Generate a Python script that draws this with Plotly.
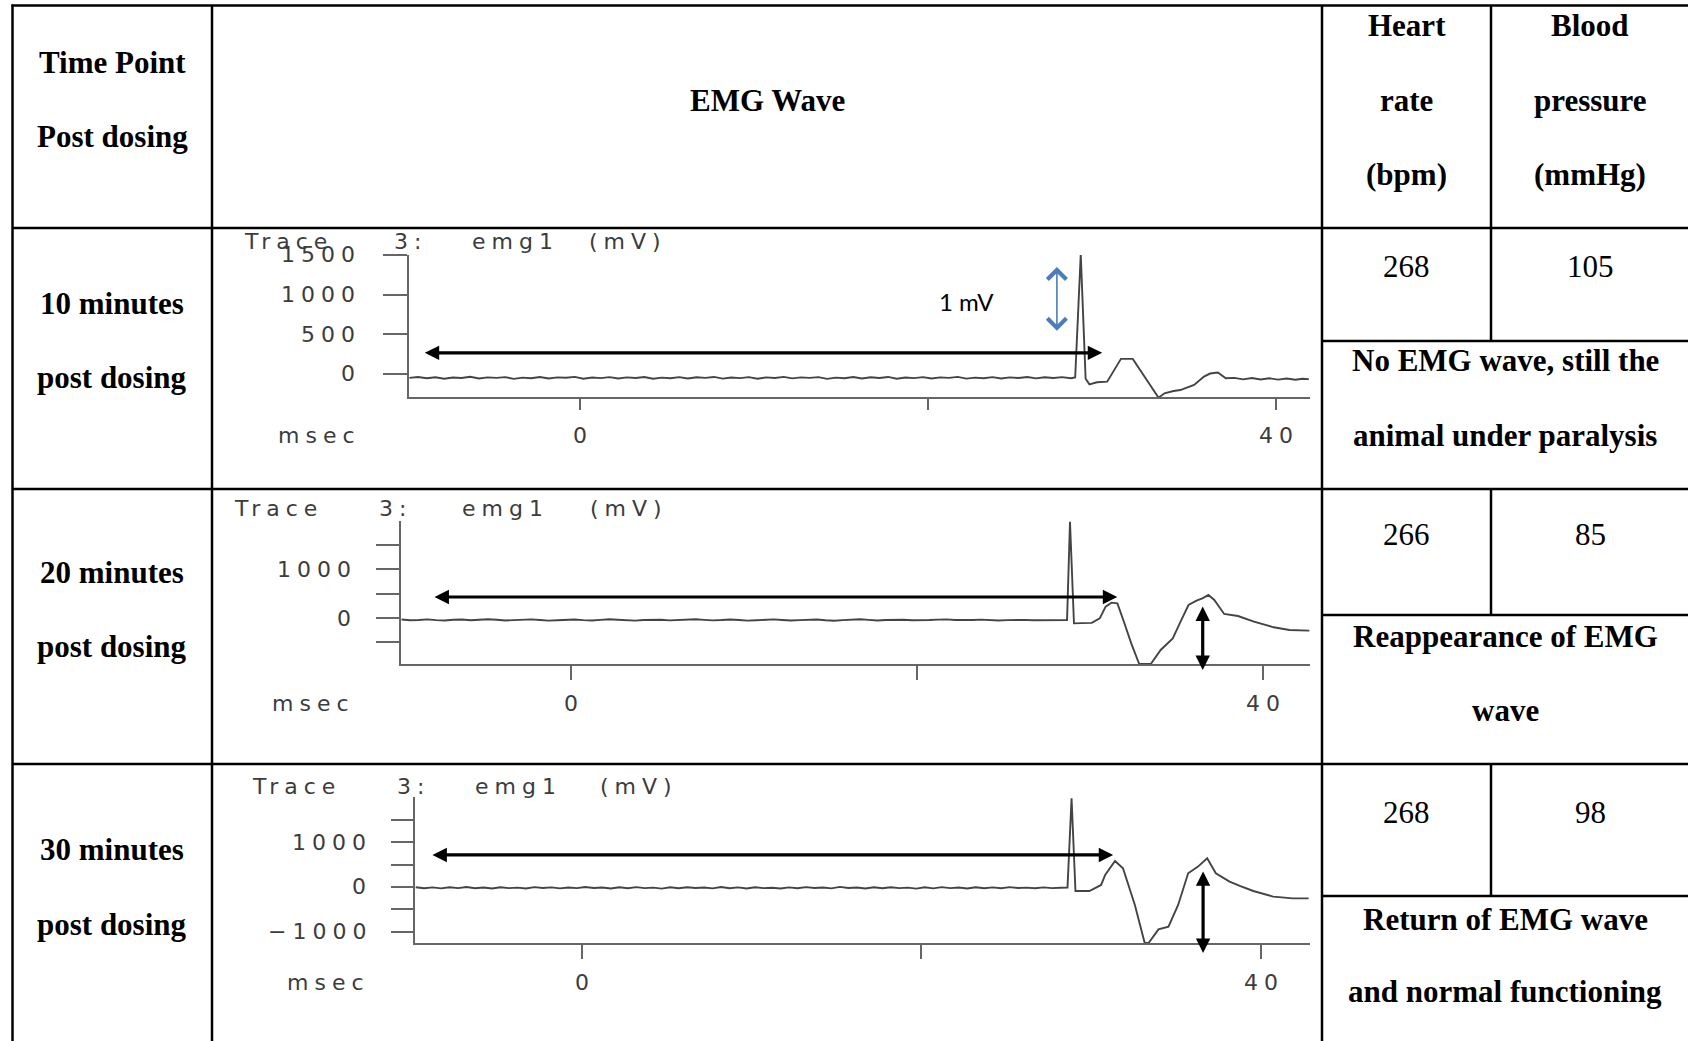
import plotly.graph_objects as go
import numpy as np

W, H = 1688, 1041

# ---------------- data ----------------
header_time = ["Time Point", "Post dosing"]
header_wave = "EMG Wave"
header_hr = ["Heart", "rate", "(bpm)"]
header_bp = ["Blood", "pressure", "(mmHg)"]
time_points = [["10 minutes", "post dosing"],
               ["20 minutes", "post dosing"],
               ["30 minutes", "post dosing"]]
heart_rate = [268, 266, 268]
blood_pressure = [105, 85, 98]
remarks = [["No EMG wave, still the", "animal under paralysis"],
           ["Reappearance of EMG", "wave"],
           ["Return of EMG wave", "and normal functioning"]]

trace_title = ["Trace", "3:", "emg1", "(mV)"]
x_unit = "msec"
x_ticks = [0, 20, 40]
x_tick_text = ["0", "", "40"]
y_ticks_10 = [0, 500, 1000, 1500]
y_tick_text_10 = ["0", "500", "1000", "1500"]
y_ticks_20 = [-500, 0, 500, 1000, 1500]
y_tick_text_20 = ["", "0", "", "1000", ""]
y_ticks_30 = [-1000, -500, 0, 500, 1000, 1500]
y_tick_text_30 = ["\u22121000", "", "0", "", "1000", ""]

baseline_start_ms = -9.8
baseline_step_ms = 0.5
baseline_10 = [-50, -38, -55, -42, -60, -45, -52, -36, -58, -44,
               -50, -40, -62, -46, -54, -38, -57, -43, -49, -37,
               -60, -45, -53, -41, -58, -44, -51, -39, -61, -47,
               -55, -40, -57, -42, -50, -38, -59, -45, -53, -41,
               -60, -44, -52, -37, -56, -43, -50, -40, -62, -46,
               -54, -39, -58, -42, -51, -38, -60, -45, -53, -40,
               -57, -43, -50, -37, -59, -46, -54, -41, -58, -44,
               -51, -39, -56, -42, -52, -40, -55]
event_10_ms = [28.45, 28.77, 29.05, 29.27, 29.7, 30.29, 31.08, 31.76, 33.24, 33.58,
               34.1, 34.49, 35.28, 35.85, 36.2, 36.65, 37.1, 37.6, 38.1, 38.6,
               39.1, 39.6, 40.1, 40.6, 41.1, 41.5, 41.87]
event_10_mv = [-45, 1510, -60, -131, -105, -97, 190, 190, -300, -245,
               -215, -203, -139, -34, 5, 17, -55, -50, -68, -52,
               -70, -55, -72, -58, -74, -60, -66]

baseline_20 = [-32, -46, -40, -28, -43, -52, -36, -30, -47, -40,
               -26, -37, -50, -44, -34, -29, -41, -53, -46, -33,
               -30, -43, -51, -39, -27, -35, -47, -54, -40, -31,
               -37, -49, -43, -33, -25, -38, -48, -41, -30, -42,
               -53, -46, -35, -28, -40, -50, -44, -37, -31, -46,
               -55, -43, -34, -27, -39, -51, -40, -32, -36, -47,
               -52, -42, -34, -29, -40, -48, -41, -33, -43, -50,
               -44, -36, -39, -47, -43, -38, -42]
event_20_ms = [28.66, 28.83, 29.06, 29.5, 30.09, 30.55, 30.89, 31.23, 31.57, 31.91,
               32.37, 32.83, 33.5, 34.07, 34.77, 35.22, 35.68, 36.14, 36.48, 36.83,
               37.17, 37.74, 38.54, 39.46, 40.6, 41.51, 42.66]
event_20_mv = [-40, 1966, -109, -105, -100, -7, 231, 313, 299, -41,
               -517, -939, -939, -653, -415, -75, 265, 354, 401, 469,
               367, 82, 41, -75, -190, -245, -258]

baseline_30 = [-5, -28, -10, -32, -8, -25, -2, -30, -12, -35,
               -6, -27, -15, -33, -4, -22, -9, -31, -13, -26,
               0, -24, -11, -34, -7, -29, -3, -25, -14, -36,
               -8, -30, -5, -23, -12, -32, -1, -27, -10, -33,
               -6, -26, -16, -35, -9, -28, -4, -24, -13, -31,
               2, -22, -11, -34, -7, -29, -5, -26, -15, -37,
               -8, -31, -3, -25, -12, -33, -6, -28, -10, -30,
               -4, -24, -14, -29, -9, -27, -18]
event_30_ms = [28.61, 28.85, 29.08, 29.9, 30.59, 30.83, 31.41, 31.88, 32.58, 33.16,
               33.39, 33.97, 34.56, 35.13, 35.72, 36.3, 36.84, 37.35, 38.16, 38.8,
               39.56, 40.73, 41.89, 42.82]
event_30_mv = [-15, 1993, -90, -90, 45, 270, 584, 420, -404, -1258,
               -1258, -951, -891, -404, 307, 457, 644, 307, 120, 20,
               -90, -217, -255, -255]

# annotation marks (data units: ms, mV)
latency_arrow_ms = [[-9.0, 30.0], [-7.98, 31.56], [-8.9, 31.3]]
latency_arrow_mv = [266, 429, 719]
amp_arrow_ms = [None, 36.5, 36.6]
amp_arrow_mv = [None, [265, -1061], [382, -1483]]
scale_arrow_ms = 27.4
scale_arrow_mv = [1367, 544]
scale_label = "1 mV"
scale_label_pos = [22.2, 911]

# ---------------- layout geometry (pixels) ----------------
def fx(x):
    return x / W


def fy(y):
    return 1 - y / H


LS = 6

panels = [
    dict(l=409, r=1310, t=255, b=397, xr=[-9.82, 41.94], yr=[-291, 1500],
         yt=y_ticks_10, ytt=y_tick_text_10, base=baseline_10, ems=event_10_ms, emv=event_10_mv,
         ylab_r=357 + LS, ylen=24, xlen=11, xlab_y=435, title_y=241,
         title_x=[242, 392, 470, 587], msec_r=357 + LS),
    dict(l=401, r=1310, t=521, b=664, xr=[-9.83, 42.7], yr=[-939, 1980],
         yt=y_ticks_20, ytt=y_tick_text_20, base=baseline_20, ems=event_20_ms, emv=event_20_mv,
         ylab_r=353 + LS, ylen=23, xlen=14, xlab_y=703, title_y=508,
         title_x=[232, 377, 460, 588], msec_r=351 + LS),
    dict(l=415, r=1310, t=797, b=943, xr=[-9.84, 42.9], yr=[-1258, 2020],
         yt=y_ticks_30, ytt=y_tick_text_30, base=baseline_30, ems=event_30_ms, emv=event_30_mv,
         ylab_r=368 + LS, ylen=22, xlen=14, xlab_y=982, title_y=786,
         title_x=[250, 395, 473, 598], msec_r=366 + LS),
]

fig = go.Figure()
annotations = []
shapes = []

EMG_FONT = dict(family="DejaVu Sans", size=22, color="#3c3c3c")
TRACE_COL = "#444444"
AXIS_COL = "#666666"


def spaced(s):
    return f'<span style="letter-spacing:{LS}px">{s}</span>'


for i, p in enumerate(panels):
    k = "" if i == 0 else str(i + 1)
    xa, ya = "x" + k, "y" + k
    t_base = baseline_start_ms + baseline_step_ms * np.arange(len(p["base"]))
    t_all = list(t_base) + p["ems"]
    v_all = list(p["base"]) + p["emv"]
    fig.add_trace(go.Scatter(x=t_all, y=v_all, mode="lines",
                             line=dict(color=TRACE_COL, width=1.9),
                             xaxis=xa, yaxis=ya, showlegend=False, hoverinfo="skip"))
    fig.layout["xaxis" + k] = dict(
        domain=[fx(p["l"]), fx(p["r"])], range=p["xr"], anchor=ya,
        showline=True, linecolor=AXIS_COL, linewidth=1.7, showgrid=False, zeroline=False,
        ticks="outside", tickvals=x_ticks, ticklen=p["xlen"], tickwidth=1.7,
        tickcolor=AXIS_COL, showticklabels=False, fixedrange=True)
    fig.layout["yaxis" + k] = dict(
        domain=[fy(p["b"]), fy(p["t"])], range=p["yr"], anchor=xa,
        showline=True, linecolor=AXIS_COL, linewidth=1.7, showgrid=False, zeroline=False,
        ticks="outside", tickvals=p["yt"], ticklen=p["ylen"], tickwidth=1.7,
        tickcolor=AXIS_COL, showticklabels=False, fixedrange=True)
    # y tick labels
    for v, txt in zip(p["yt"], p["ytt"]):
        if txt:
            annotations.append(dict(text=spaced(txt), x=fx(p["ylab_r"]), xref="paper",
                                    y=v, yref=ya, xanchor="right", yanchor="middle",
                                    showarrow=False, font=EMG_FONT))
    # x tick labels
    for v, txt in zip(x_ticks, x_tick_text):
        if txt:
            annotations.append(dict(text=spaced(txt), x=v, xref=xa, xshift=LS / 2,
                                    y=fy(p["xlab_y"]), yref="paper",
                                    xanchor="center", yanchor="middle",
                                    showarrow=False, font=EMG_FONT))
    annotations.append(dict(text=spaced(x_unit), x=fx(p["msec_r"]), xref="paper",
                            y=fy(p["xlab_y"]), yref="paper", xanchor="right",
                            yanchor="middle", showarrow=False, font=EMG_FONT))
    for word, wx in zip(trace_title, p["title_x"]):
        annotations.append(dict(text=spaced(word), x=fx(wx), xref="paper",
                                y=fy(p["title_y"]), yref="paper", xanchor="left",
                                yanchor="middle", showarrow=False, font=EMG_FONT))
    # latency arrow (double headed, black)
    annotations.append(dict(text="", x=latency_arrow_ms[i][1], y=latency_arrow_mv[i],
                            xref=xa, yref=ya, ax=latency_arrow_ms[i][0], ay=latency_arrow_mv[i],
                            axref=xa, ayref=ya, showarrow=True, arrowside="end+start",
                            arrowhead=2, startarrowhead=2, arrowsize=0.9, startarrowsize=0.9,
                            arrowwidth=3.2, arrowcolor="black", standoff=0, startstandoff=0))
    if amp_arrow_ms[i] is not None:
        annotations.append(dict(text="", x=amp_arrow_ms[i], y=amp_arrow_mv[i][1],
                                xref=xa, yref=ya, ax=amp_arrow_ms[i], ay=amp_arrow_mv[i][0],
                                axref=xa, ayref=ya, showarrow=True, arrowside="end+start",
                                arrowhead=2, startarrowhead=2, arrowsize=0.9, startarrowsize=0.9,
                                arrowwidth=3.2, arrowcolor="black", standoff=0, startstandoff=0))

# 1 mV scale arrow (panel 1)
annotations.append(dict(text="", x=scale_arrow_ms, y=scale_arrow_mv[1], xref="x", yref="y",
                        ax=scale_arrow_ms, ay=scale_arrow_mv[0], axref="x", ayref="y",
                        showarrow=True, arrowside="end+start", arrowhead=4, startarrowhead=4,
                        arrowsize=2.3, startarrowsize=2.3, arrowwidth=1.6,
                        arrowcolor="#4a7ebb", standoff=0, startstandoff=0))
annotations.append(dict(text=scale_label, x=scale_label_pos[0], y=scale_label_pos[1],
                        xref="x", yref="y", showarrow=False, xanchor="center", yanchor="middle",
                        font=dict(family="Lato", size=24, color="black")))

# ---------------- table ----------------
LW = 2.5
LEFT, TOP, RIGHT, BOTTOM = 12.5, 5.5, 1690, 1045
C1, C2, C3 = 212, 1322, 1491
ROWS = [228, 489, 764]
SUB = [341, 615, 896]


def hline(y, x0, x1):
    shapes.append(dict(type="line", xref="paper", yref="paper", x0=fx(x0), x1=fx(x1),
                       y0=fy(y), y1=fy(y), line=dict(color="black", width=LW)))


def vline(x, y0, y1):
    shapes.append(dict(type="line", xref="paper", yref="paper", x0=fx(x), x1=fx(x),
                       y0=fy(y0), y1=fy(y1), line=dict(color="black", width=LW)))


hline(TOP, LEFT - 1, RIGHT)
vline(LEFT, TOP - 1, BOTTOM)
vline(C1, TOP, BOTTOM)
vline(C2, TOP, BOTTOM)
for r in ROWS:
    hline(r, LEFT, RIGHT)
for s in SUB:
    hline(s, C2, RIGHT)
vline(C3, TOP, ROWS[0])
for r, s in zip(ROWS, SUB):
    vline(C3, r, s)

SERIF = dict(family="Liberation Serif", size=31, color="black")


def cell(text, x, y, bold=True):
    t = f"<b>{text}</b>" if bold else text
    annotations.append(dict(text=t, x=fx(x), y=fy(y), xref="paper", yref="paper",
                            xanchor="center", yanchor="middle", showarrow=False, font=SERIF))


col1_x = (LEFT + C1) / 2
col2_x = (C1 + C2) / 2
col3_x = (C2 + C3) / 2
col4_x = 1590
col34_x = 1505

cell(header_time[0], col1_x, 62)
cell(header_time[1], col1_x, 137)
cell(header_wave, col2_x, 100)
for txt, yy in zip(header_hr, [26, 100, 174]):
    cell(txt, col3_x, yy)
for txt, yy in zip(header_bp, [26, 100, 174]):
    cell(txt, col4_x, yy)

tp_y = [[304, 378], [572, 646], [849, 924]]
num_y = [266, 534, 812]
rem_y = [[360, 435], [636, 710], [919, 991]]
for i in range(3):
    cell(time_points[i][0], col1_x, tp_y[i][0])
    cell(time_points[i][1], col1_x, tp_y[i][1])
    cell(str(heart_rate[i]), col3_x, num_y[i], bold=False)
    cell(str(blood_pressure[i]), col4_x, num_y[i], bold=False)
    cell(remarks[i][0], col34_x, rem_y[i][0])
    cell(remarks[i][1], col34_x, rem_y[i][1])

fig.update_layout(width=W, height=H, autosize=False,
                  margin=dict(l=0, r=0, t=0, b=0, pad=0),
                  paper_bgcolor="white", plot_bgcolor="white",
                  annotations=annotations, shapes=shapes, showlegend=False)

fig.write_html("out.html", config={"displayModeBar": False},
               post_script="document.body.style.margin='0px';document.body.style.overflow='hidden';")
